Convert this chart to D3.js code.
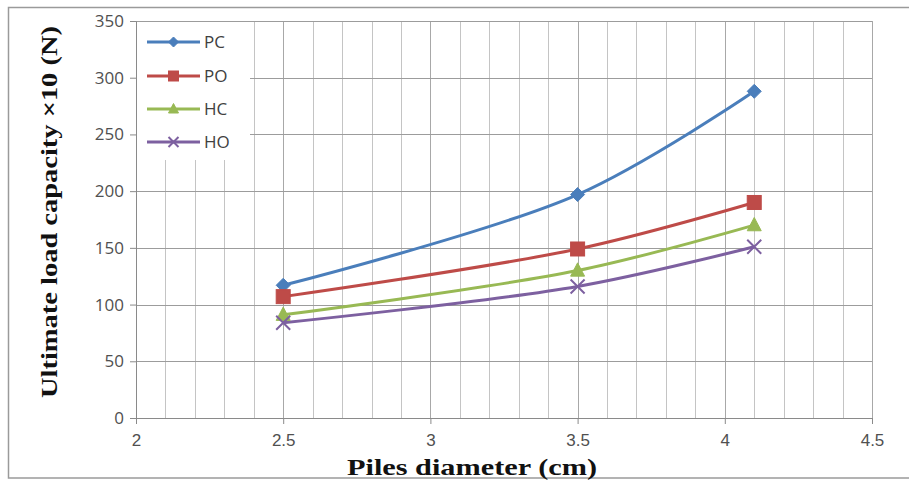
<!DOCTYPE html>
<html><head><meta charset="utf-8">
<script src="https://cdn.jsdelivr.net/npm/d3@7"></script>
<style>body{margin:0;background:#fff}svg{display:block}</style>
</head><body>
<svg id="c" width="909" height="481"></svg>
<script>
const diameters = [2.5, 3.5, 4.1];
const seriesNames = ["PC", "PO", "HC", "HO"];
const pcValues = [117, 197, 288];
const poValues = [107, 149, 190];
const hcValues = [91, 130, 170];
const hoValues = [84, 116, 151];
const xTicks = [2, 2.5, 3, 3.5, 4, 4.5];
const yTicks = [0, 50, 100, 150, 200, 250, 300, 350];
const xTickLabels = ["2", "2.5", "3", "3.5", "4", "4.5"];

const colors = ["#4A7EBB", "#BE4B48", "#98B954", "#7D60A0"];
const symbols = ["diamond", "square", "triangle", "x"];
const values = [pcValues, poValues, hcValues, hoValues];

const svg = d3.select("#c");
// outer frame
svg.append("rect").attr("x", 8.5).attr("y", 7.5).attr("width", 920).attr("height", 470.5)
  .attr("fill", "#fff").attr("stroke", "#9a9a9a").attr("stroke-width", 1.5);

const x = d3.scaleLinear().domain([2, 4.5]).range([136, 872]);
const y = d3.scaleLinear().domain([0, 350]).range([418, 21]);

const g = svg.append("g");
// minor vertical gridlines every 0.1
const minor = d3.range(21, 46).map(i => i / 10);
g.selectAll(".vg").data(minor).enter().append("line")
  .attr("x1", d => Math.round(x(d)) + 0.5).attr("x2", d => Math.round(x(d)) + 0.5)
  .attr("y1", y(350)).attr("y2", y(0))
  .attr("stroke", d => (Math.abs(d * 2 - Math.round(d * 2)) < 1e-6) ? "#a8a8a8" : "#c4c4c4")
  .attr("stroke-width", 1);
// horizontal gridlines
g.selectAll(".hg").data(yTicks.filter(d => d > 0)).enter().append("line")
  .attr("x1", x(2)).attr("x2", x(4.5))
  .attr("y1", d => Math.round(y(d)) + 0.5).attr("y2", d => Math.round(y(d)) + 0.5)
  .attr("stroke", "#9c9c9c").attr("stroke-width", 1);

// axes
const yAxis = d3.axisLeft(y).tickValues(yTicks).tickSize(6).tickPadding(6);
const ya = svg.append("g").attr("transform", `translate(${x(2)},0)`).call(yAxis);
ya.select(".domain").attr("stroke", "#8a8a8a");
ya.selectAll(".tick line").attr("stroke", "#8a8a8a");
ya.selectAll("text").attr("font-family", "'Open Sans', 'Liberation Sans', sans-serif")
  .attr("font-size", 17).attr("fill", "#505050");

const xAxis = d3.axisBottom(x).tickValues(xTicks).tickFormat((d, i) => xTickLabels[i]).tickSize(6).tickPadding(10);
const xa = svg.append("g").attr("transform", `translate(0,${y(0)})`).call(xAxis);
xa.select(".domain").attr("stroke", "#8a8a8a");
xa.selectAll(".tick line").attr("stroke", "#8a8a8a");
xa.selectAll("text").attr("font-family", "'Liberation Sans Narrow', 'Liberation Sans', sans-serif")
  .attr("font-size", 17).attr("fill", "#505050");

// axis titles
svg.append("text").attr("x", 472).attr("y", 475).attr("text-anchor", "middle")
  .attr("font-family", "'Liberation Serif', 'Times New Roman', serif").attr("font-weight", "bold")
  .attr("font-size", 24).attr("fill", "#111").attr("textLength", 250).attr("lengthAdjust", "spacingAndGlyphs")
  .text("Piles diameter (cm)");
svg.append("text").attr("transform", "translate(57,212) rotate(-90)").attr("text-anchor", "middle")
  .attr("font-family", "'Liberation Serif', 'Times New Roman', serif").attr("font-weight", "bold")
  .attr("font-size", 24).attr("fill", "#111").attr("textLength", 372).attr("lengthAdjust", "spacingAndGlyphs")
  .text("Ultimate load capacity ×10 (N)");

// legend background
svg.append("rect").attr("x", 137).attr("y", 22).attr("width", 113).attr("height", 138).attr("fill", "#fff");

function drawMarker(sel, sym, color, cx, cy, s) {
  if (sym === "diamond") {
    sel.append("path").attr("d", `M${cx},${cy - s}L${cx + s},${cy}L${cx},${cy + s}L${cx - s},${cy}Z`)
      .attr("fill", color).attr("stroke", color).attr("stroke-width", 1);
  } else if (sym === "square") {
    sel.append("rect").attr("x", cx - s).attr("y", cy - s).attr("width", 2 * s).attr("height", 2 * s)
      .attr("fill", color).attr("stroke", color);
  } else if (sym === "triangle") {
    sel.append("path").attr("d", `M${cx},${cy - s * 1.1}L${cx + s},${cy + s * 0.8}L${cx - s},${cy + s * 0.8}Z`)
      .attr("fill", color).attr("stroke", color);
  } else {
    sel.append("path").attr("d", `M${cx - s},${cy - s}L${cx + s},${cy + s}M${cx - s},${cy + s}L${cx + s},${cy - s}`)
      .attr("stroke", color).attr("stroke-width", 2).attr("fill", "none");
  }
}

const line = d3.line().x(d => x(d[0])).y(d => y(d[1])).curve(d3.curveCatmullRom.alpha(0.5));
values.forEach((vals, i) => {
  const pts = diameters.map((d, j) => [d, vals[j]]);
  svg.append("path").datum(pts).attr("d", line).attr("fill", "none")
    .attr("stroke", colors[i]).attr("stroke-width", 3);
});
const sizes = [7, 7, 7, 7];
values.forEach((vals, i) => {
  const mg = svg.append("g");
  diameters.forEach((d, j) => drawMarker(mg, symbols[i], colors[i], x(d), y(vals[j]), sizes[i]));
});

// legend
const legY = [42, 76, 109, 142];
seriesNames.forEach((n, i) => {
  const lg = svg.append("g");
  lg.append("line").attr("x1", 147).attr("x2", 200).attr("y1", legY[i]).attr("y2", legY[i])
    .attr("stroke", colors[i]).attr("stroke-width", 3);
  drawMarker(lg, symbols[i], colors[i], 173.5, legY[i], 5);
  lg.append("text").attr("x", 204).attr("y", legY[i] + 6)
    .attr("font-family", "'Open Sans', 'Liberation Sans', sans-serif").attr("font-size", 17)
    .attr("fill", "#404040").text(n);
});
</script>
</body></html>
